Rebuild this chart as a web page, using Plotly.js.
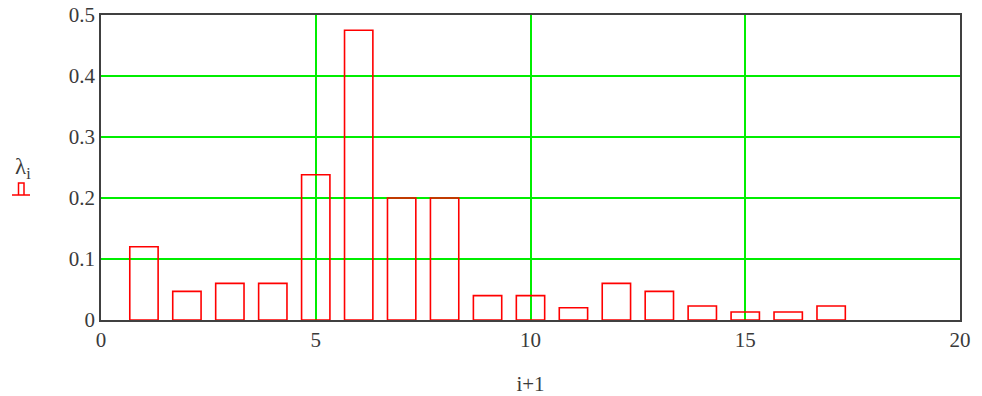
<!DOCTYPE html>
<html>
<head>
<meta charset="utf-8">
<script src="https://cdn.plot.ly/plotly-3.0.1.min.js"></script>
<style>html,body{margin:0;padding:0;background:#fff;}#chart{width:982px;height:396px;}</style>
</head>
<body>
<div id="chart"></div>
<script>
// Data
const xValues = [1, 2, 3, 4, 5, 6, 7, 8, 9, 10, 11, 12, 13, 14, 15, 16, 17];
const lambdaValues = [0.12, 0.047, 0.06, 0.06, 0.238, 0.475, 0.2, 0.2, 0.04, 0.04, 0.02, 0.06, 0.047, 0.023, 0.013, 0.013, 0.023];
const xTickVals = [0, 5, 10, 15, 20];
const yTickVals = [0, 0.1, 0.2, 0.3, 0.4, 0.5];
const yTickText = ["0", "0.1", "0.2", "0.3", "0.4", "0.5"];

const W = 982, H = 396;
const M = {l: 101, r: 22, t: 15, b: 76};
const pw = W - M.l - M.r, ph = H - M.t - M.b;
const px = v => (v - M.l) / pw;
const py = v => 1 - (v - M.t) / ph;

const SERIF = "Liberation Serif";
const TXT = "#3a3a3a";

const trace = {
  type: "bar",
  x: xValues,
  y: lambdaValues,
  width: 0.66,
  marker: {color: "rgba(255,255,255,0)", line: {color: "#ff0000", width: 1.6}},
  hoverinfo: "x+y"
};

const layout = {
  width: W, height: H,
  margin: M,
  font: {family: SERIF, size: 21, color: TXT},
  paper_bgcolor: "#ffffff",
  plot_bgcolor: "#ffffff",
  showlegend: false,
  xaxis: {
    range: [0, 20],
    tickvals: xTickVals,
    ticktext: xTickVals.map(String),
    tickfont: {family: SERIF, size: 21, color: TXT},
    showgrid: true,
    gridcolor: "#00ee00",
    gridwidth: 1.5,
    zeroline: false,
    showline: true,
    linecolor: "#404040",
    linewidth: 1.8,
    mirror: true,
    ticks: "",
    title: {text: "i+1", font: {family: SERIF, size: 21, color: TXT}, standoff: 26}
  },
  yaxis: {
    range: [0, 0.5],
    tickvals: yTickVals,
    ticktext: yTickText,
    tickfont: {family: SERIF, size: 21, color: TXT},
    showgrid: true,
    gridcolor: "#00ee00",
    gridwidth: 1.5,
    zeroline: false,
    showline: true,
    linecolor: "#404040",
    linewidth: 1.8,
    mirror: true,
    ticks: ""
  },
  annotations: [
    {
      xref: "paper", yref: "paper",
      x: px(13), y: py(168),
      xanchor: "left", yanchor: "middle",
      text: "λ<sub>i</sub>",
      showarrow: false,
      font: {family: SERIF, size: 23, color: TXT}
    }
  ],
  shapes: [
    {
      type: "path", xref: "paper", yref: "paper",
      path: `M ${px(12)} ${py(195)} L ${px(30)} ${py(195)} M ${px(18.5)} ${py(195)} L ${px(18.5)} ${py(183)} L ${px(24)} ${py(183)} L ${px(24)} ${py(195)}`,
      line: {color: "#ff0000", width: 1.5}
    }
  ]
};

Plotly.newPlot("chart", [trace], layout, {displayModeBar: false});
</script>
</body>
</html>
